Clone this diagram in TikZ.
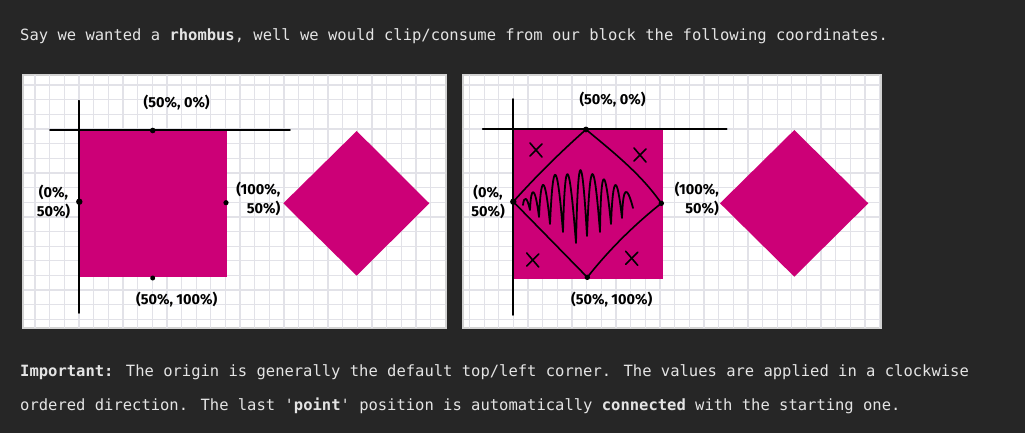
\documentclass[tikz,border=0pt]{standalone}
\usepackage{fontspec}
\newfontfamily\monofont{DejaVu Sans Mono}
\newfontfamily\handfont{Fira Sans}
\definecolor{bg}{HTML}{262626}
\definecolor{txt}{HTML}{E4E4E4}
\definecolor{mag}{HTML}{CC0077}
\definecolor{gridc}{HTML}{E2E2E8}
\definecolor{framec}{HTML}{D2D2D2}
\tikzset{
  para/.style={anchor=base west, inner sep=0pt, text=txt, font=\monofont\fontsize{15.5}{18}\selectfont},
  gridline/.style={draw=gridc, line width=1.3pt},
  panel/.style={fill=white, draw=framec, line width=2pt},
  axis/.style={draw=black, line width=1.8pt, line cap=round},
  hand/.style={draw=black, line width=1.6pt, line cap=round, line join=round},
  lbl/.style={inner sep=0pt, text=black, font=\handfont\bfseries\fontsize{14.5}{19}\selectfont},
  dot/.style={fill=black},
}
\begin{document}
\begin{tikzpicture}[x=1pt,y=-1pt]
\fill[bg] (0,0) rectangle (1025,433);
\useasboundingbox (0,0) rectangle (1025,433);

% texts
\node[para] (t1) at (20,41) {Say we wanted a \textbf{rhombus}, well we would clip/consume from our block the following coordinates.};
\node[para] (t2) at (20,376.5) {\textbf{Important:} The origin is generally the default top/left corner. The values are applied in a clockwise};
\node[para] (t3) at (20,410) {ordered direction. The last '\textbf{point}' position is automatically \textbf{connected} with the starting one.};

% ---------- left panel ----------
\draw[panel] (23,75) rectangle (446,328);
\begin{scope}
\clip (24,76) rectangle (445,327);
\foreach \i in {0,...,28} \draw[gridline] ({35+\i*14.65},75) -- ++(0,253);
\foreach \j in {0,...,16} \draw[gridline] (23,{85+\j*14.65}) -- ++(423,0);
\end{scope}
\fill[mag] (79.3,130) rectangle (227.3,277.3);
\draw[axis] (79.3,100.7) -- (79.3,313);
\draw[axis] (50,130) -- (290,130);
\coordinate (lt) at (152.7,130.5);
\coordinate (ll) at (79.3,201.7);
\coordinate (lr) at (226,202.7);
\coordinate (lb) at (152.7,278);
\fill[dot] (lt) circle (2.8);
\fill[dot] (ll) circle (3.2);
\fill[dot] (lr) circle (2.6);
\fill[dot] (lb) circle (2.5);
\node[lbl] (l1) at (176.7,103) {(50\%, 0\%)};
\node[lbl, align=center] (l2) at (53.5,201.5) {(0\%,\\50\%)};
\node[lbl, align=right, anchor=east] (l3) at (280.5,199) {(100\%,\\50\%)};
\node[lbl] (l4) at (176.7,300) {(50\%, 100\%)};
\fill[mag] (356.7,131) -- (429.3,203.3) -- (356.7,275.7) -- (283.3,203.3) -- cycle;

% ---------- right panel ----------
\draw[panel] (463,75) rectangle (881,328);
\begin{scope}
\clip (464,76) rectangle (880,327);
\foreach \i in {0,...,28} \draw[gridline] ({469.5+\i*14.65},75) -- ++(0,253);
\foreach \j in {0,...,16} \draw[gridline] (463,{85+\j*14.65}) -- ++(418,0);
\end{scope}
\fill[mag] (513.3,129.3) rectangle (662.7,279);
\draw[axis] (513.3,99) -- (513.3,315);
\draw[axis] (482.7,129.3) -- (726.7,129.3);
\coordinate (rt) at (586,129.5);
\coordinate (rl) at (513.3,201.7);
\coordinate (rr) at (661.3,203.3);
\coordinate (rb) at (587.3,277.3);
\draw[hand] (rt) .. controls (560.4,152.2) and (536.1,176.2) .. (rl);
\draw[hand] (rt) .. controls (613,152) and (641,174) .. (rr);
\draw[hand] (rr) .. controls (633.8,225.2) and (609,249.8) .. (rb);
\draw[hand] (rl) -- (rb);
\fill[dot] (rt) circle (2.9);
\fill[dot] (rl) circle (3.2);
\fill[dot] (rr) circle (2.7);
\fill[dot] (rb) circle (2.7);
% crosses
\foreach \cx/\cy in {536/150, 640/155, 532.7/260, 631.7/258.3}{
  \draw[hand, line width=1.6pt] (\cx-6,\cy-7) -- (\cx+6,\cy+7);
  \draw[hand, line width=1.6pt] (\cx+6,\cy-6) -- (\cx-6,\cy+6);
}
% scribble
\draw[hand, line width=1.8pt]
 (523,205) .. controls (524,196) and (527,196) .. (530,210)
 .. controls (531,185) and (535,185) .. (539,217)
 .. controls (541,173) and (545,173) .. (550,224)
 .. controls (553,157) and (557,157) .. (563,232)
 .. controls (565,153) and (569,153) .. (576,243)
 .. controls (578,147) and (582,147) .. (587,236)
 .. controls (590,154) and (594,154) .. (600,232)
 .. controls (601,163) and (605,163) .. (611,224)
 .. controls (613,173) and (617,173) .. (622,218)
 .. controls (623,185) and (627,185) .. (633,208);
\node[lbl] (r1) at (612.5,100) {(50\%, 0\%)};
\node[lbl, align=center] (r2) at (488,201.5) {(0\%,\\50\%)};
\node[lbl, align=right, anchor=east] (r3) at (719,198.5) {(100\%,\\50\%)};
\node[lbl] (r4) at (611.7,300) {(50\%, 100\%)};
\fill[mag] (794.3,130) -- (868.3,203.3) -- (794.3,276.7) -- (720,203.3) -- cycle;
\end{tikzpicture}
\end{document}
